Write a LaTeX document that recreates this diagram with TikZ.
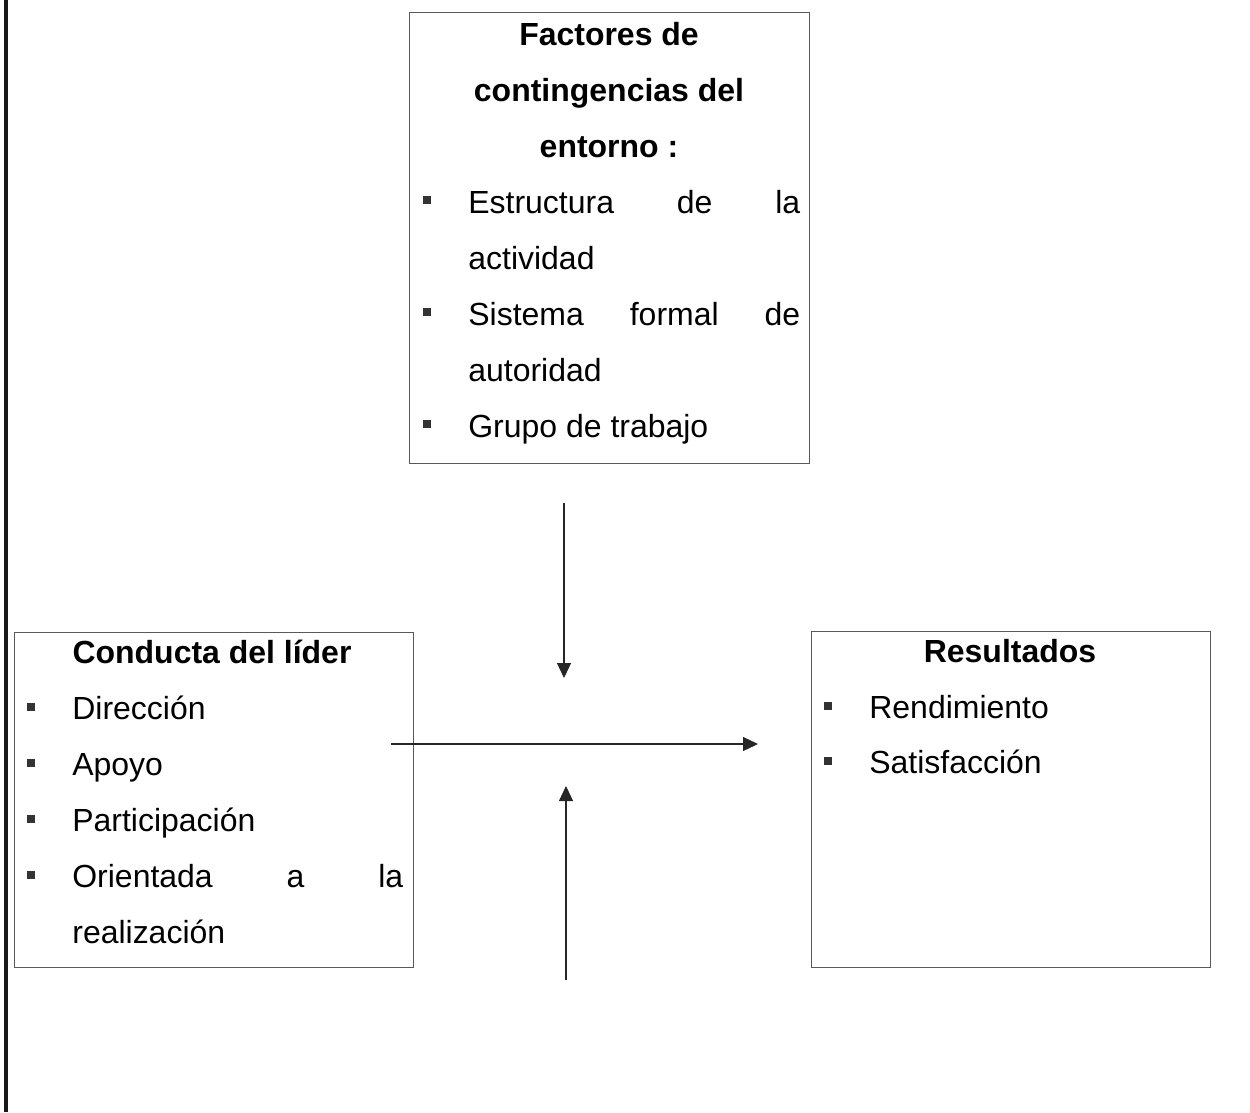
\documentclass[tikz,border=0pt]{standalone}
\usepackage{fontspec}
\setmainfont{Liberation Sans}
\usetikzlibrary{arrows.meta}
\begin{document}
\begin{tikzpicture}[x=0.02cm,y=-0.02cm,
  frame/.style={draw=black!65,line width=0.6pt,inner sep=0,anchor=north west},
  txt/.style={inner sep=0,anchor=base west,font=\fontsize{18.2}{20}\selectfont},
  head/.style={inner sep=0,anchor=base,font=\fontsize{18.2}{20}\selectfont\bfseries},
  bul/.style={fill=black!80,inner sep=0,minimum size=0.16cm,draw=none},
  link/.style={draw=black!85,line width=0.7pt,-{Triangle[length=0.3cm,width=0.28cm]}}]
\useasboundingbox (0,0) rectangle (1250,1112);
% page margin rule
\draw[line width=0.1cm,black!90] (6,0) -- (6,1112);

% upper box: environment contingencies
\node[frame,minimum width=8cm,minimum height=9.02cm] (env) at (409,12) {};
\node[head] (e1) at (609,45) {Factores de};
\node[head] (e2) at (609,101) {contingencias del};
\node[head] (e3) at (609,157) {entorno :};
\node[bul] (eb1) at (427,200) {};
\node[txt] (e4) at (468,213) {\makebox[6.64cm][l]{Estructura\hfill de\hfill la}};
\node[txt] (e5) at (468,269) {actividad};
\node[bul] (eb2) at (427,312) {};
\node[txt] (e6) at (468,325) {\makebox[6.64cm][l]{Sistema\hfill formal\hfill de}};
\node[txt] (e7) at (468,381) {autoridad};
\node[bul] (eb3) at (427,424) {};
\node[txt] (e8) at (468,437) {Grupo de trabajo};

% left box: leader behaviour
\node[frame,minimum width=7.98cm,minimum height=6.7cm] (lead) at (14,632) {};
\node[head] (l1) at (212,663) {Conducta del líder};
\node[bul] (lb1) at (31,707) {};
\node[txt] (l2) at (72,719) {Dirección};
\node[bul] (lb2) at (31,763) {};
\node[txt] (l3) at (72,775) {Apoyo};
\node[bul] (lb3) at (31,819) {};
\node[txt] (l4) at (72,831) {Participación};
\node[bul] (lb4) at (31,875) {};
\node[txt] (l5) at (72,887) {\makebox[6.62cm][l]{Orientada\hfill a\hfill la}};
\node[txt] (l6) at (72,943) {realización};

% right box: results
\node[frame,minimum width=7.98cm,minimum height=6.72cm] (res) at (811,631) {};
\node[head] (r1) at (1010,662) {Resultados};
\node[bul] (rb1) at (828,706) {};
\node[txt] (r2) at (869,718) {Rendimiento};
\node[bul] (rb2) at (828,761) {};
\node[txt] (r3) at (869,773) {Satisfacción};

% arrow end points
\coordinate (dTop) at (564,503);
\coordinate (dEnd) at (564,678);
\coordinate (uTop) at (566,980);
\coordinate (uEnd) at (566,786);
\coordinate (hStart) at (391,744);
\coordinate (hEnd) at (758,744);

\draw[link] (dTop) -- (dEnd);
\draw[link] (uTop) -- (uEnd);
\draw[link] (hStart) -- (hEnd);
\end{tikzpicture}
\end{document}
